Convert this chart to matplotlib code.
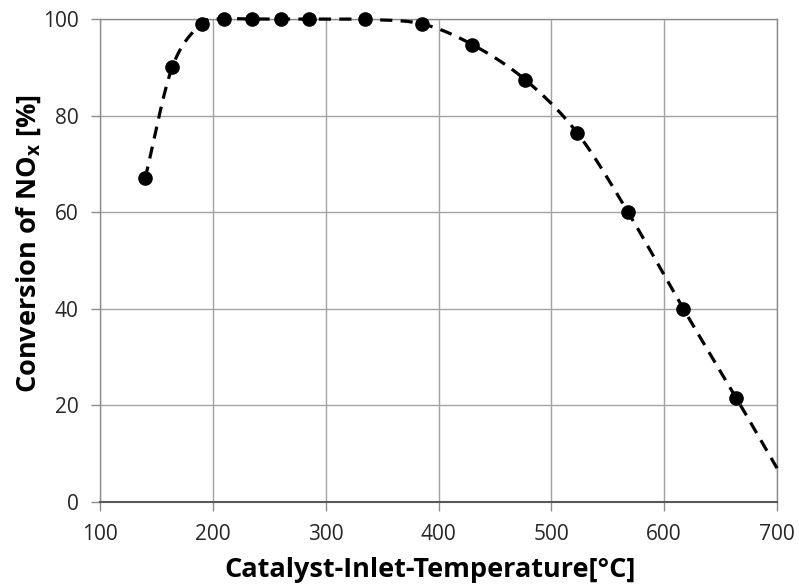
import numpy as np
import matplotlib
matplotlib.use("Agg")
import matplotlib.pyplot as plt

# Data
temperature = [140, 164, 190, 210, 235, 260, 285, 335, 385, 430, 477, 523, 568, 617, 664]
conversion = [67, 90, 99, 100, 100, 100, 100, 99.9, 99, 94.7, 87.4, 76.4, 60, 40, 21.5]
# dashed curve continues to the axis edge
line_end_t = 700
line_end_c = 7

x_ticks = [100, 200, 300, 400, 500, 600, 700]
y_ticks = [0, 20, 40, 60, 80, 100]

plt.rcParams['font.family'] = ['Open Sans', 'DejaVu Sans']
plt.rcParams['mathtext.fontset'] = 'custom'
plt.rcParams['mathtext.rm'] = 'Open Sans'
plt.rcParams['mathtext.bf'] = 'Open Sans:bold'


def catmull_rom(xs, ys, n=30):
    xs = np.asarray(xs, float)
    ys = np.asarray(ys, float)
    px = np.concatenate([[2 * xs[0] - xs[1]], xs, [2 * xs[-1] - xs[-2]]])
    py = np.concatenate([[2 * ys[0] - ys[1]], ys, [2 * ys[-1] - ys[-2]]])
    outx, outy = [], []
    for i in range(1, len(px) - 2):
        t = np.linspace(0, 1, n, endpoint=False)
        for arr, out in ((px, outx), (py, outy)):
            p0, p1, p2, p3 = arr[i - 1], arr[i], arr[i + 1], arr[i + 2]
            out.extend(0.5 * ((2 * p1) + (-p0 + p2) * t +
                              (2 * p0 - 5 * p1 + 4 * p2 - p3) * t ** 2 +
                              (-p0 + 3 * p1 - 3 * p2 + p3) * t ** 3))
    outx.append(xs[-1])
    outy.append(ys[-1])
    return np.array(outx), np.array(outy)


fig = plt.figure(figsize=(7.99, 5.88), dpi=100)
ax = fig.add_axes([100 / 799, 86 / 588, 677 / 799, 483 / 588])

lx, ly = catmull_rom(temperature + [line_end_t], conversion + [line_end_c])
ax.plot(lx, ly, color='black', lw=2.3, dashes=(3.8, 2.6), zorder=3, clip_on=False)
ax.plot(temperature, conversion, 'o', color='black', markersize=9.5, zorder=4, clip_on=False)

ax.set_xlim(100, 700)
ax.set_ylim(0, 100)
ax.set_xticks(x_ticks)
ax.set_yticks(y_ticks)
ax.grid(True, color='#a3a3a3', lw=1)
ax.set_axisbelow(True)

for s in ['top', 'right', 'left']:
    ax.spines[s].set_color('#8c8c8c')
    ax.spines[s].set_linewidth(1)
ax.spines['bottom'].set_color('#595959')
ax.spines['bottom'].set_linewidth(1.5)

ax.tick_params(axis='both', direction='out', length=6.5, width=1, color='#8c8c8c',
               labelsize=15, labelcolor='#262626')
ax.tick_params(axis='x', pad=9)
ax.tick_params(axis='y', pad=9)

ax.set_xlabel('Catalyst-Inlet-Temperature[°C]', fontsize=19.5, fontweight='bold',
              va='center')
ax.set_ylabel(r'Conversion of NO$_\mathbf{x}$ [%]', fontsize=19.5, fontweight='bold',
              va='center')
ax.xaxis.set_label_coords(0.487, -68 / 483)
ax.yaxis.set_label_coords(-71 / 677, 0.534)

fig.savefig('out.png', dpi=100)
